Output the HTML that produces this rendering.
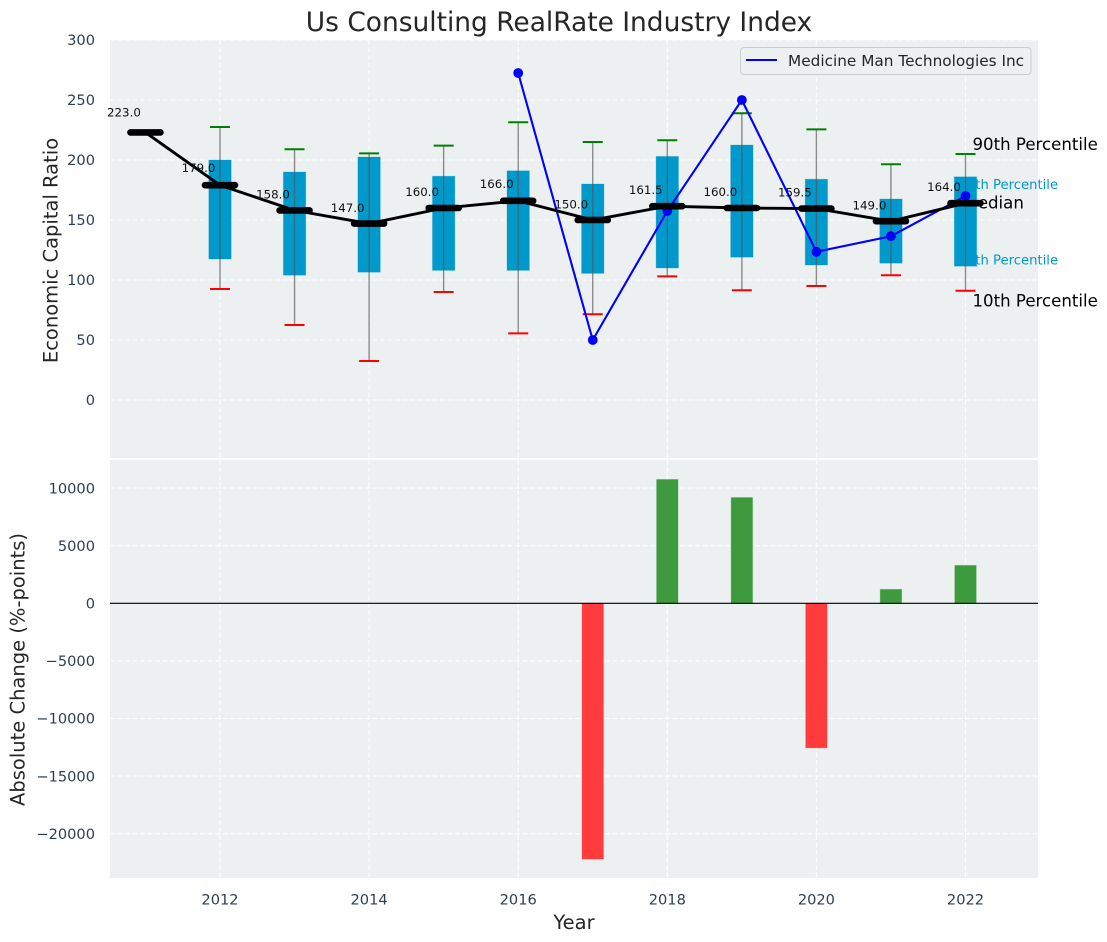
<!DOCTYPE html>
<html lang="en">
<head>
<meta charset="utf-8">
<title>Us Consulting RealRate Industry Index</title>
<style>
html,body{margin:0;padding:0;background:#fff;width:1107px;height:942px;overflow:hidden}
svg{display:block;font-family:"DejaVu Sans","Liberation Sans",sans-serif}
</style>
</head>
<body>
<svg id="chart" width="1107" height="942" viewBox="0 0 1107 942" xmlns="http://www.w3.org/2000/svg"></svg>
<script>
const years = [2012,2013,2014,2015,2016,2017,2018,2019,2020,2021,2022];
const medianYears = [2011,2012,2013,2014,2015,2016,2017,2018,2019,2020,2021,2022];
const medians = [223,179,158,147,160,166,150,161.5,160,159.5,149,164];
const p90 = [227.5,209,205.5,212,231.5,215,216.5,239,225.5,196.5,205];
const p75 = [200,190,202.5,186.5,191,180,203,212.5,184,167.5,186];
const p25 = [117.5,104,106.5,108,108,105.5,110,119,112.5,114,111.5];
const p10 = [92.5,62.5,32.5,90,55.5,71.5,103,91.5,95,104,91];
const companyYears = [2016,2017,2018,2019,2020,2021,2022];
const companyValues = [272.5,50,157.5,250,123.5,136.5,170];
const changeYears = [2017,2018,2019,2020,2021,2022];
const changeValues = [-22200,10750,9180,-12550,1210,3290];
const xTicks = [2012,2014,2016,2018,2020,2022];
const topTicks = [0,50,100,150,200,250,300];
const bottomTicks = [-20000,-15000,-10000,-5000,0,5000,10000];

const NS = 'http://www.w3.org/2000/svg';
const svg = document.getElementById('chart');
const L = 110, R = 1038, T1 = 40, B1 = 458, T2 = 460, B2 = 878;
const x = v => 220 + (v - 2012) * 74.55;
const y1 = v => 400 - v * 1.2;
const y2 = v => 603.3 - v * 0.01152;

function mk(tag, attrs, text) {
  const el = document.createElementNS(NS, tag);
  for (const k in attrs) el.setAttribute(k, attrs[k]);
  if (text !== undefined) el.textContent = text;
  svg.appendChild(el);
  return el;
}
function name(el, n) {
  
  
  return el;
}
const gridStyle = {stroke:'#fff','stroke-width':1.1,'stroke-dasharray':'5 2.5',opacity:0.9};
const tickColor = '#2c3e50';

name(mk('rect',{x:L,y:T1,width:R-L,height:B1-T1,fill:'#ecf0f1'}),'top-plot-area');
name(mk('rect',{x:L,y:T2,width:R-L,height:B2-T2,fill:'#ecf0f1'}),'bottom-plot-area');

xTicks.forEach(t => {
  name(mk('line',{x1:x(t),x2:x(t),y1:T1,y2:B1,...gridStyle}),'top-vertical-gridline');
  name(mk('line',{x1:x(t),x2:x(t),y1:T2,y2:B2,...gridStyle}),'bottom-vertical-gridline');
  name(mk('text',{x:x(t),y:904.5,'text-anchor':'middle','font-size':14.6,fill:tickColor},t),'x-tick-label');
});
topTicks.forEach(t => {
  name(mk('line',{x1:L,x2:R,y1:y1(t),y2:y1(t),...gridStyle}),'top-horizontal-gridline');
  name(mk('text',{x:95,y:y1(t)+5.2,'text-anchor':'end','font-size':14.6,fill:tickColor},t),'top-y-tick-label');
});
bottomTicks.forEach(t => {
  name(mk('line',{x1:L,x2:R,y1:y2(t),y2:y2(t),...gridStyle}),'bottom-horizontal-gridline');
  name(mk('text',{x:95,y:y2(t)+5.2,'text-anchor':'end','font-size':14.6,fill:tickColor},String(t).replace('-','\u2212')),'bottom-y-tick-label');
});

name(mk('text',{x:559,y:31,'text-anchor':'middle','font-size':26.45,fill:'#262626'},'Us Consulting RealRate Industry Index'),'chart-title');
name(mk('text',{x:57.5,y:250.5,'text-anchor':'middle','font-size':19.5,fill:'#262626',transform:'rotate(-90 57.5 250.5)'},'Economic Capital Ratio'),'top-y-axis-title');
name(mk('text',{x:24.5,y:669.5,'text-anchor':'middle','font-size':19.5,fill:'#262626',transform:'rotate(-90 24.5 669.5)'},'Absolute Change (%-points)'),'bottom-y-axis-title');
name(mk('text',{x:574,y:929,'text-anchor':'middle','font-size':19.5,fill:'#262626'},'Year'),'x-axis-title');

const lastYear = years[years.length-1];
const lastIdx = years.length-1;
name(mk('text',{x:x(lastYear)+7,y:y1(p90[lastIdx])-4,'font-size':16.6,fill:'#000'},'90th Percentile'),'annotation-90th-percentile');
name(mk('text',{x:x(lastYear)-7,y:y1(p75[lastIdx])+12,'font-size':13.2,fill:'#0099cc'},'75th Percentile'),'annotation-75th-percentile');
name(mk('text',{x:x(lastYear)-7,y:y1(p25[lastIdx])-1.5,'font-size':13.2,fill:'#0099cc'},'25th Percentile'),'annotation-25th-percentile');
name(mk('text',{x:x(lastYear)-2,y:y1(medians[medians.length-1])+5.5,'font-size':16.6,fill:'#000'},'Median'),'annotation-median');
name(mk('text',{x:x(lastYear)+7,y:y1(p10[lastIdx])+15.5,'font-size':16.6,fill:'#000'},'10th Percentile'),'annotation-10th-percentile');

years.forEach((yr,i) => {
  const cx = x(yr);
  name(mk('rect',{x:cx-11.2,y:y1(p75[i]),width:22.4,height:y1(p25[i])-y1(p75[i]),fill:'#0099cc',stroke:'#0099cc','stroke-opacity':0.25,'stroke-width':1}),'box-'+yr);
  name(mk('line',{x1:cx,x2:cx,y1:y1(p90[i]),y2:y1(p10[i]),stroke:'#555','stroke-opacity':0.65,'stroke-width':1.4}),'whisker-'+yr);
  name(mk('line',{x1:cx-10,x2:cx+10,y1:y1(p90[i]),y2:y1(p90[i]),stroke:'#008000','stroke-width':2}),'p90-cap-'+yr);
  name(mk('line',{x1:cx-10,x2:cx+10,y1:y1(p10[i]),y2:y1(p10[i]),stroke:'#ff0000','stroke-width':2}),'p10-cap-'+yr);
});

const companyPts = companyYears.map((yr,i) => x(yr)+','+y1(companyValues[i])).join(' ');
name(mk('polyline',{points:companyPts,fill:'none',stroke:'#0000ff','stroke-width':2.1}),'company-line');
companyYears.forEach((yr,i) => {
  name(mk('circle',{cx:x(yr),cy:y1(companyValues[i]),r:4.9,fill:'#0000ff'}),'company-point-'+yr);
});

const medianPts = medianYears.map((yr,i) => x(yr)+','+y1(medians[i])).join(' ');
name(mk('polyline',{points:medianPts,fill:'none',stroke:'#000','stroke-width':2.9}),'median-line');
medianYears.forEach((yr,i) => {
  name(mk('line',{x1:x(yr)-15,x2:x(yr)+15,y1:y1(medians[i]),y2:y1(medians[i]),stroke:'#000','stroke-width':6.6,'stroke-linecap':'round'}),'median-mark-'+yr);
});
medianYears.forEach((yr,i) => {
  name(mk('text',{x:x(yr)-21.5,y:y1(medians[i]*1.05)-2.6,'text-anchor':'middle','font-size':11.8,fill:'#111'},medians[i].toFixed(1)),'median-label-'+yr);
});

changeYears.forEach((yr,i) => {
  const v = changeValues[i];
  const top = Math.min(y2(v),y2(0));
  const h = Math.abs(y2(v)-y2(0));
  const c = v < 0 ? '#ff3b3b' : '#3d9b3d';
  name(mk('rect',{x:x(yr)-10.7,y:top,width:21.4,height:h,fill:c,stroke:c,'stroke-opacity':0.4,'stroke-width':0.8}),'change-bar-'+yr);
});
name(mk('line',{x1:L,x2:R,y1:y2(0),y2:y2(0),stroke:'#000','stroke-width':1.2}),'zero-line');

const legend = mk('rect',{x:740.5,y:47.5,width:290.5,height:27,rx:3.5,fill:'#ecf0f1','fill-opacity':0.8,stroke:'#cccccc','stroke-width':1});


name(mk('line',{x1:746,x2:777,y1:60,y2:60,stroke:'#0000ff','stroke-width':2.1}),'legend-line');
name(mk('text',{x:788,y:66,'font-size':15.3,fill:'#262626'},'Medicine Man Technologies Inc'),'legend-entry');
</script>
</body>
</html>
